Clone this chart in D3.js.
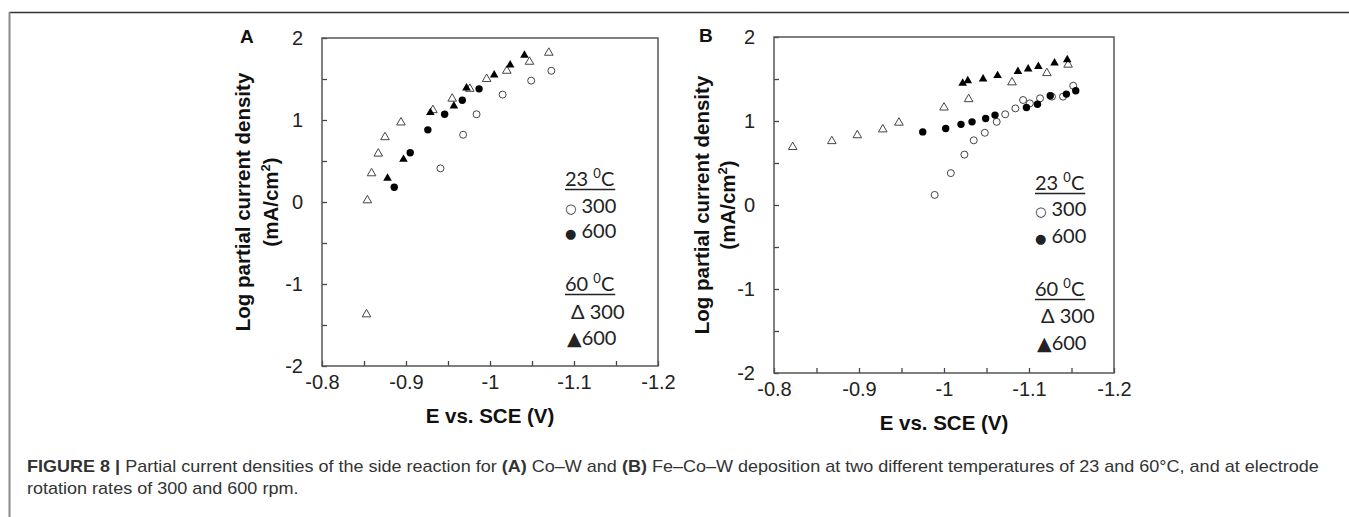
<!DOCTYPE html>
<html>
<head>
<meta charset="utf-8">
<script src="https://cdn.jsdelivr.net/npm/d3@7"></script>
<style>
	body { margin: 0; background: #fff; }
	svg { display: block; }
	.tick text { font-family: "Liberation Sans", Arial, sans-serif; font-size: 20px; fill: #222; }
	.tick line { stroke: #444; stroke-width: 1.3; }
	.axis-label { font-family: "Liberation Sans", Arial, sans-serif; font-weight: bold; font-size: 20.5px; fill: #111; }
	.panel-letter { font-family: "Liberation Sans", Arial, sans-serif; font-weight: bold; font-size: 19px; fill: #111; }
	.legend { font-family: Lato, "Open Sans", sans-serif; font-size: 20px; fill: #222; }
	.sym { font-family: "DejaVu Sans", sans-serif; }
	.caption { font-family: "Liberation Sans Narrow", "Liberation Sans", Arial, sans-serif; font-size: 16px; fill: #333; }
</style>
</head>
<body>
<svg id="chart" width="1349" height="517"></svg>
<script>
//Tick labels
var ticksX = [-0.8, -0.9, -1, -1.1, -1.2];
var ticksY = [-2, -1, 0, 1, 2];

//Panel A: Co-W  [E (V), log i]
var coW_23_300 = [[-0.941, 0.41], [-0.968, 0.82], [-0.984, 1.07], [-1.015, 1.31], [-1.049, 1.48], [-1.073, 1.60]];
var coW_23_600 = [[-0.886, 0.18], [-0.905, 0.60], [-0.926, 0.88], [-0.946, 1.07], [-0.967, 1.24], [-0.987, 1.38]];
var coW_60_300 = [[-0.853, -1.37], [-0.854, 0.02], [-0.859, 0.35], [-0.867, 0.59], [-0.875, 0.79], [-0.894, 0.97],
	[-0.932, 1.12], [-0.955, 1.26], [-0.976, 1.38], [-0.996, 1.50], [-1.020, 1.60], [-1.047, 1.71], [-1.070, 1.82]];
var coW_60_600 = [[-0.878, 0.29], [-0.897, 0.52], [-0.929, 1.09], [-0.957, 1.17], [-0.972, 1.39], [-1.005, 1.55],
	[-1.024, 1.67], [-1.041, 1.79]];

//Panel B: Fe-Co-W
var feCoW_23_300 = [[-0.989, 0.12], [-1.008, 0.38], [-1.024, 0.60], [-1.035, 0.77], [-1.048, 0.86], [-1.062, 0.99],
	[-1.072, 1.08], [-1.084, 1.15], [-1.093, 1.25], [-1.101, 1.21], [-1.113, 1.27], [-1.127, 1.29], [-1.140, 1.29], [-1.152, 1.42]];
var feCoW_23_600 = [[-0.975, 0.87], [-1.002, 0.91], [-1.020, 0.96], [-1.033, 0.99], [-1.049, 1.03], [-1.060, 1.07],
	[-1.097, 1.16], [-1.110, 1.20], [-1.125, 1.30], [-1.144, 1.32], [-1.155, 1.36]];
var feCoW_60_300 = [[-0.822, 0.69], [-0.868, 0.76], [-0.898, 0.83], [-0.928, 0.90], [-0.947, 0.98], [-1.000, 1.16],
	[-1.029, 1.26], [-1.080, 1.46], [-1.121, 1.57], [-1.146, 1.67]];
var feCoW_60_600 = [[-1.022, 1.45], [-1.028, 1.48], [-1.046, 1.50], [-1.063, 1.54], [-1.087, 1.59], [-1.099, 1.62],
	[-1.111, 1.65], [-1.130, 1.69], [-1.145, 1.73]];

//Legend
var legendRows = [
	{ Text: "23 ", Sup: "0", After: "C", Head: true },
	{ Sym: "\u25CB", SymSize: 13, Text: " 300" },
	{ Sym: "\u25CF", SymSize: 13, Text: " 600" },
	{ Text: "60 ", Sup: "0", After: "C", Head: true },
	{ Text: "\u0394 300", Indent: 6 },
	{ Sym: "\u25B2", SymSize: 19, Text: "600", Indent: 2 }
];

var svg = d3.select("#chart");

//Figure frame
svg.append("line").attr("x1", 9).attr("x2", 1349).attr("y1", 12.5).attr("y2", 12.5)
	.attr("stroke", "#333").attr("stroke-width", 1.5);
svg.append("line").attr("x1", 9.5).attr("x2", 9.5).attr("y1", 12).attr("y2", 517)
	.attr("stroke", "#8a8a8a").attr("stroke-width", 2);

var renderPanel = function(p) {
	var g = svg.append("g")
		.attr("transform", "translate(" + p.left + "," + p.top + ")");

	var x = d3.scaleLinear().domain([-0.8, -1.2]).range([0, p.width]);
	var y = d3.scaleLinear().domain([-2, 2]).range([p.height, 0]);

	//y axis, ticks every 0.5 pointing inward
	g.append("g")
		.attr("class", "y axis")
		.call(d3.axisLeft(y)
			.tickValues(d3.range(-2, 2.01, 0.5))
			.tickSizeInner(-5).tickSizeOuter(0).tickPadding(19)
			.tickFormat(function(d) { return ticksY.indexOf(d) >= 0 ? String(d) : ""; }))
		.call(function(a) { a.select(".domain").remove(); });

	//x axis, ticks every 0.05 pointing inward
	g.append("g")
		.attr("class", "x axis")
		.attr("transform", "translate(0," + p.height + ")")
		.call(d3.axisBottom(x)
			.tickValues(d3.range(0, 9).map(function(i) { return -0.8 - i * 0.05; }))
			.tickSizeInner(-5).tickSizeOuter(0).tickPadding(9)
			.tickFormat(function(d) {
				var v = Math.round(d * 10) / 10;
				return Math.abs(v - d) < 1e-6 && ticksX.indexOf(v) >= 0 ? String(v) : "";
			}))
		.call(function(a) { a.select(".domain").remove(); });

	//plot box
	g.append("rect")
		.attr("width", p.width)
		.attr("height", p.height)
		.attr("fill", "none")
		.attr("stroke", "#555")
		.attr("stroke-width", 1.5);

	//axis titles
	g.append("text")
		.attr("class", "axis-label")
		.attr("text-anchor", "middle")
		.attr("x", p.width / 2)
		.attr("y", p.height + 57)
		.text("E vs. SCE (V)");

	g.append("text")
		.attr("class", "axis-label")
		.attr("text-anchor", "middle")
		.attr("transform", "translate(" + p.labelX1 + "," + (p.height / 2) + ") rotate(-90)")
		.text("Log partial current density");

	var unit = g.append("text")
		.attr("class", "axis-label")
		.attr("text-anchor", "middle")
		.attr("transform", "translate(" + p.labelX2 + "," + (p.height / 2) + ") rotate(-90)");
	unit.append("tspan").text("(mA/cm");
	unit.append("tspan").attr("font-size", "13px").attr("dy", -8).text("2");
	unit.append("tspan").attr("dy", 8).text(")");

	//panel letter
	g.append("text")
		.attr("class", "panel-letter")
		.attr("x", p.letterX)
		.attr("y", 5)
		.text(p.letter);

	//markers
	var tri = d3.symbol().type(d3.symbolTriangle).size(32);

	g.selectAll(".open-tri").data(p.s60_300).enter()
		.append("path")
		.attr("d", tri)
		.attr("transform", function(d) { return "translate(" + x(d[0]) + "," + y(d[1]) + ")"; })
		.attr("fill", "none").attr("stroke", "#444").attr("stroke-width", 1);

	g.selectAll(".open-circ").data(p.s23_300).enter()
		.append("circle")
		.attr("cx", function(d) { return x(d[0]); })
		.attr("cy", function(d) { return y(d[1]); })
		.attr("r", 3.5)
		.attr("fill", "#fff").attr("stroke", "#444").attr("stroke-width", 1);

	g.selectAll(".fill-circ").data(p.s23_600).enter()
		.append("circle")
		.attr("cx", function(d) { return x(d[0]); })
		.attr("cy", function(d) { return y(d[1]); })
		.attr("r", 3.7)
		.attr("fill", "#000");

	g.selectAll(".fill-tri").data(p.s60_600).enter()
		.append("path")
		.attr("d", tri)
		.attr("transform", function(d) { return "translate(" + x(d[0]) + "," + y(d[1]) + ")"; })
		.attr("fill", "#000");

	//legend
	var lg = svg.append("g").attr("transform", "translate(" + p.legendX + ",0)");
	legendRows.forEach(function(r, i) {
		var t = lg.append("text")
			.attr("class", "legend")
			.attr("x", r.Indent || 0)
			.attr("y", p.legendY[i]);
		if (r.Sym) {
			t.append("tspan").attr("class", "sym").attr("font-size", r.SymSize + "px").text(r.Sym);
		}
		t.append("tspan").text(r.Text);
		if (r.Head) {
			t.append("tspan").attr("font-size", "13px").attr("dy", -8).text(r.Sup);
			t.append("tspan").attr("dy", 8).text(r.After);
			var w = t.node().getComputedTextLength();
			lg.append("line")
				.attr("x1", 0).attr("x2", w + 1)
				.attr("y1", p.legendY[i] + 3.5).attr("y2", p.legendY[i] + 3.5)
				.attr("stroke", "#222").attr("stroke-width", 1.6);
		}
	});
};

renderPanel({
	letter: "A", left: 322, top: 38, width: 336, height: 328,
	labelX1: -72, labelX2: -44, letterX: -82,
	legendX: 565, legendY: [186, 213, 238, 291, 319, 345],
	s23_300: coW_23_300, s23_600: coW_23_600, s60_300: coW_60_300, s60_600: coW_60_600
});

renderPanel({
	letter: "B", left: 774, top: 37, width: 340, height: 336,
	labelX1: -65, labelX2: -39, letterX: -75,
	legendX: 1035, legendY: [190, 216, 243, 296, 323, 350],
	s23_300: feCoW_23_300, s23_600: feCoW_23_600, s60_300: feCoW_60_300, s60_600: feCoW_60_600
});

//Caption, squeezed to the width of the original line
var cap1 = svg.append("text").attr("class", "caption");
cap1.append("tspan").attr("font-weight", "bold").text("FIGURE 8 | ");
cap1.append("tspan").text("Partial current densities of the side reaction for ");
cap1.append("tspan").attr("font-weight", "bold").text("(A)");
cap1.append("tspan").text(" Co\u2013W and ");
cap1.append("tspan").attr("font-weight", "bold").text("(B)");
cap1.append("tspan").text(" Fe\u2013Co\u2013W deposition at two different temperatures of 23 and 60\u00B0C, and at electrode");

var cap2 = svg.append("text").attr("class", "caption")
	.text("rotation rates of 300 and 600 rpm.");

var k = 1293 / cap1.node().getComputedTextLength();
cap1.attr("transform", "translate(27,472) scale(" + k + ",1)");
cap2.attr("transform", "translate(27,494) scale(" + k + ",1)");
</script>
</body>
</html>
